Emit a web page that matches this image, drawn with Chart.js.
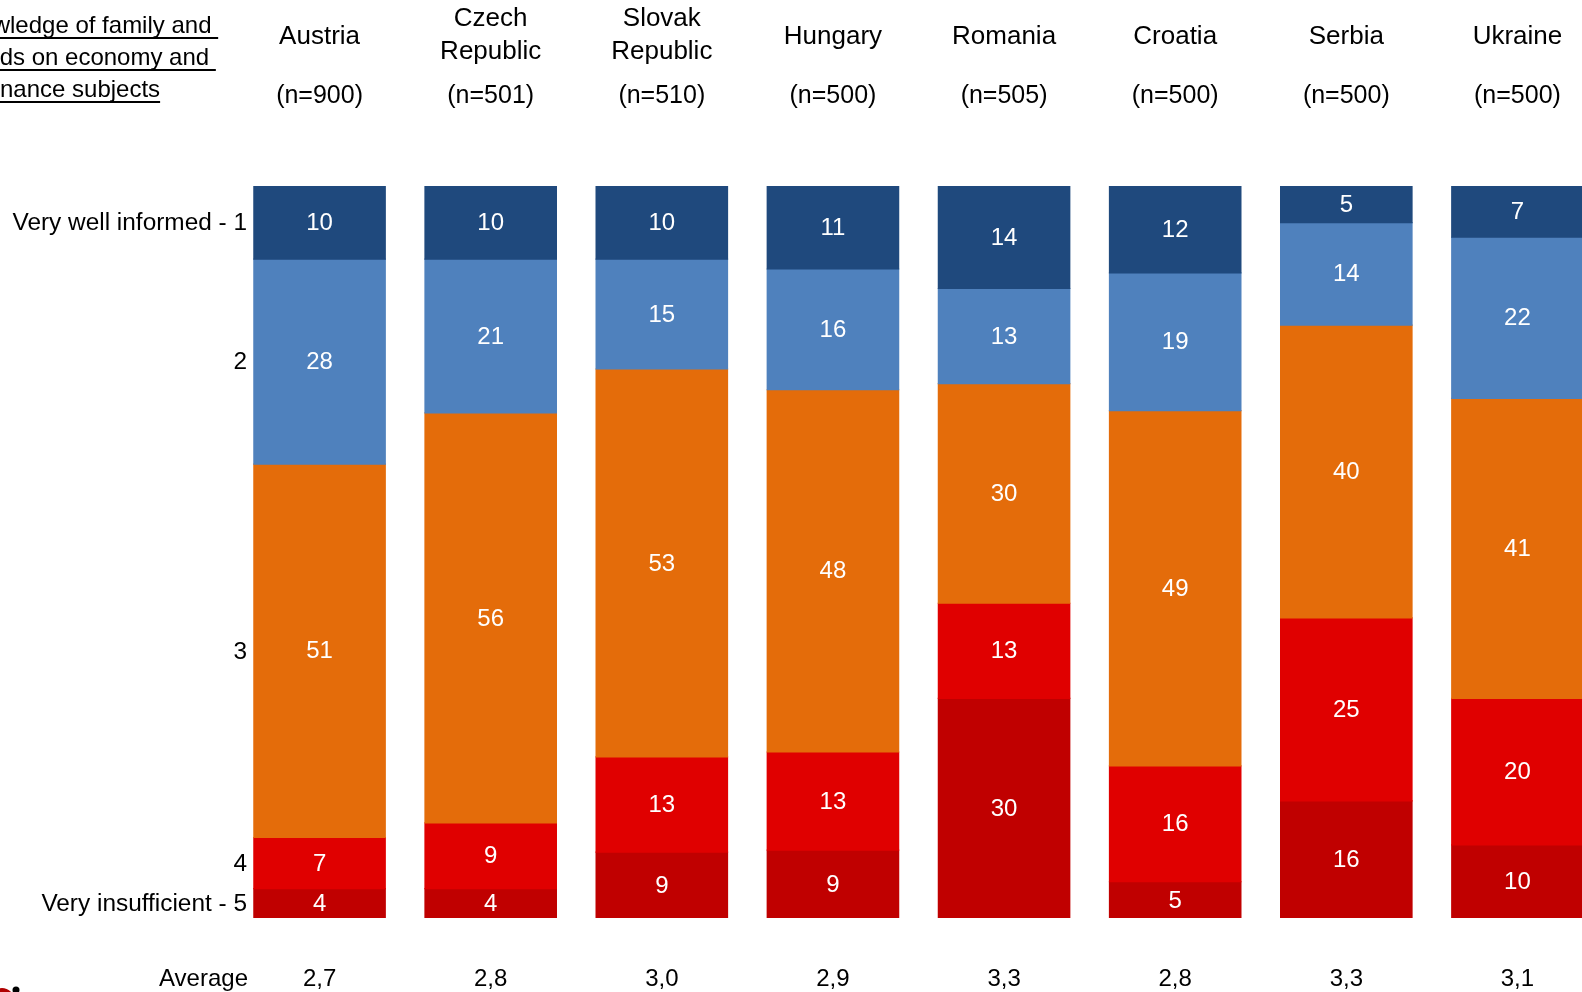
<!DOCTYPE html>
<html>
<head>
<meta charset="utf-8">
<script src="https://cdn.jsdelivr.net/npm/chart.js@4.4.1/dist/chart.umd.min.js"></script>
<style>
  html, body { margin: 0; padding: 0; background: #fff; overflow: hidden; }
  canvas { display: block; }
</style>
</head>
<body>
<canvas id="chartCanvas" width="1640" height="992"></canvas>
<script>
// countries and sample sizes
var countries = ['Austria', 'Czech Republic', 'Slovak Republic', 'Hungary', 'Romania', 'Croatia', 'Serbia', 'Ukraine'];
var nameLines = [['Austria'], ['Czech', 'Republic'], ['Slovak', 'Republic'], ['Hungary'], ['Romania'], ['Croatia'], ['Serbia'], ['Ukraine']];
var sampleSizes = [900, 501, 510, 500, 505, 500, 500, 500];

// answer shares in %, 1 = very well informed ... 5 = very insufficient
var level1 = [10, 10, 10, 11, 14, 12, 5, 7];
var level2 = [28, 21, 15, 16, 13, 19, 14, 22];
var level3 = [51, 56, 53, 48, 30, 49, 40, 41];
var level4 = [7, 9, 13, 13, 13, 16, 25, 20];
var level5 = [4, 4, 9, 9, 30, 5, 16, 10];
var averages = [2.7, 2.8, 3.0, 2.9, 3.3, 2.8, 3.3, 3.1];

var levelNames = ['Very well informed - 1', '2', '3', '4', 'Very insufficient - 5'];
var titleLines = ['Knowledge of family and ', 'friends on economy and ', 'finance subjects'];

var colors = ['#1F497D', '#4F81BD', '#E46C0A', '#E00000', '#C00000'];
var levels = [level1, level2, level3, level4, level5];
var FONT = '"Liberation Sans", Arial, sans-serif';

// each bar is scaled to 100%
var totals = countries.map(function (c, i) {
  return levels.reduce(function (s, l) { return s + l[i]; }, 0);
});

var datasets = levels.map(function (vals, k) {
  return {
    label: levelNames[k],
    raw: vals,
    data: vals.map(function (v, i) { return v / totals[i] * 100; }),
    backgroundColor: colors[k],
    borderWidth: 0,
    inflateAmount: 0.6,
    categoryPercentage: 1,
    barPercentage: 0.768
  };
});

var textPlugin = {
  id: 'texts',
  afterDatasetsDraw: function (chart) {
    var ctx = chart.ctx;
    var xs = chart.scales.x, ys = chart.scales.y;
    ctx.save();

    // values inside the segments
    ctx.fillStyle = '#fff';
    ctx.font = '24px ' + FONT;
    ctx.textAlign = 'center';
    ctx.textBaseline = 'middle';
    chart.data.datasets.forEach(function (ds, k) {
      chart.getDatasetMeta(k).data.forEach(function (bar, i) {
        ctx.fillText(String(ds.raw[i]), bar.x, (bar.y + bar.base) / 2 + 1);
      });
    });

    // country headers and averages
    ctx.fillStyle = '#000';
    countries.forEach(function (c, i) {
      var x = xs.getPixelForValue(i);
      var lines = nameLines[i];
      ctx.font = '26px ' + FONT;
      if (lines.length === 1) {
        ctx.fillText(lines[0], x, 37);
      } else {
        ctx.fillText(lines[0], x, 19);
        ctx.fillText(lines[1], x, 52);
      }
      ctx.font = '25px ' + FONT;
      ctx.fillText('(n=' + sampleSizes[i] + ')', x, 96);
      ctx.font = '24px ' + FONT;
      ctx.fillText(averages[i].toFixed(1).replace('.', ','), x, 979);
    });

    // level names at the first bar's segment centres
    ctx.textAlign = 'right';
    ctx.font = '24.4px ' + FONT;
    var cum = 0;
    chart.data.datasets.forEach(function (ds, k) {
      var mid = cum + ds.data[0] / 2;
      cum += ds.data[0];
      ctx.fillText(levelNames[k], 247, ys.getPixelForValue(mid) + 1);
    });
    ctx.font = '24px ' + FONT;
    ctx.fillText('Average', 248, 979);

    // underlined heading, cut at the left edge
    ctx.textAlign = 'left';
    ctx.textBaseline = 'alphabetic';
    var starts = [-50, -47, -12];
    titleLines.forEach(function (t, j) {
      var y = 33 + j * 32;
      ctx.fillText(t, starts[j], y);
      var w = ctx.measureText(t).width;
      ctx.fillRect(starts[j], y + 4, w, 2);
    });

    // logo fragment in the corner
    ctx.fillStyle = '#B00000';
    ctx.beginPath();
    ctx.arc(2, 1000, 12, 0, Math.PI * 2);
    ctx.fill();
    ctx.fillStyle = '#000';
    ctx.beginPath();
    ctx.arc(16, 990, 3.5, 0, Math.PI * 2);
    ctx.fill();

    ctx.restore();
  }
};

var chartCanvas = document.getElementById('chartCanvas');
var chartObj = new Chart(chartCanvas, {
  type: 'bar',
  data: { labels: countries, datasets: datasets },
  options: {
    responsive: false,
    animation: false,
    devicePixelRatio: 1,
    layout: { padding: { left: 234, right: 37, top: 186, bottom: 74 } },
    plugins: { legend: { display: false }, tooltip: { enabled: false } },
    scales: {
      x: { stacked: true, display: false },
      y: { stacked: true, display: false, reverse: true, min: 0, max: 100 }
    }
  },
  plugins: [textPlugin]
});
</script>
</body>
</html>
